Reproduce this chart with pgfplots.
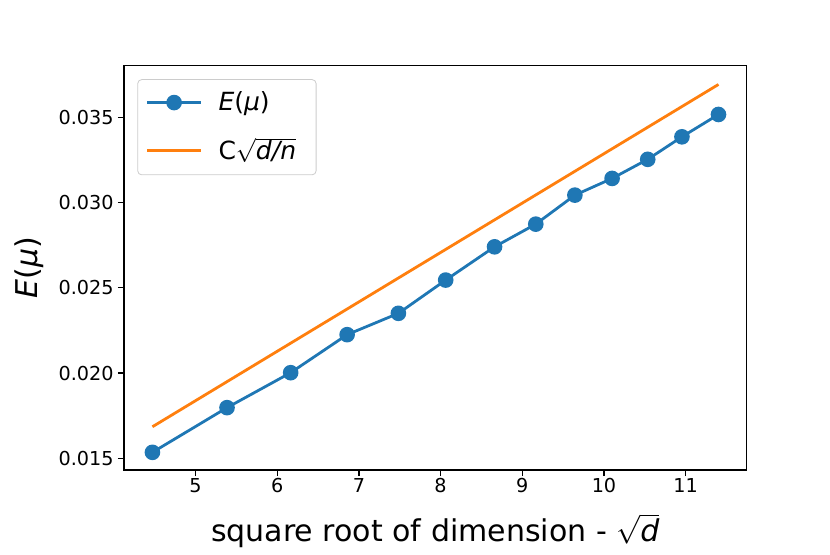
\documentclass[border=0pt]{standalone}
\usepackage{pgfplots}
\pgfplotsset{compat=1.18}
\usepackage{fontspec}
\setmainfont{DejaVu Sans}
\definecolor{c0}{HTML}{1F77B4}
\definecolor{c1}{HTML}{FF7F0E}
\pgfplotstableread{
x y
4.4721 0.01535
5.3852 0.01797
6.1644 0.02002
6.8557 0.02225
7.4833 0.02350
8.0623 0.02545
8.6603 0.02740
9.1652 0.02873
9.6437 0.03043
10.0995 0.03141
10.5357 0.03253
10.9545 0.03385
11.4018 0.03516
}\emu
\pgfplotstableread{
x y
4.4721 0.01685
11.4018 0.03692
}\bound
\begin{document}
\begin{tikzpicture}
\begin{axis}[
  at={(0,0)}, anchor=south west,
  scale only axis, width=311.3pt, height=202.2pt,
  xmin=4.124, xmax=11.746, ymin=0.014314, ymax=0.038025,
  xtick={5,6,7,8,9,10,11}, xticklabels={5,6,7,8,9,10,11},
  ytick={0.015,0.020,0.025,0.030,0.035},
  yticklabels={0.015,0.020,0.025,0.030,0.035},
  scaled y ticks=false,
  tick align=outside, major tick length=3pt,
  xtick pos=bottom, ytick pos=left,
  tick style={line width=0.6pt, black},
  axis line style={line width=0.6pt},
  tick label style={font=\fontsize{9.6}{11}\selectfont},
  xticklabel style={anchor=north, inner sep=0pt, yshift=-1pt},
  yticklabel style={anchor=east, inner sep=0pt, xshift=-2pt},
  xlabel={square root of dimension - $\sqrt{\mbox{\itshape d}}$},
  ylabel={\textit{E}(\textit{μ})},
  label style={font=\fontsize{15}{17}\selectfont},
  xlabel style={at={(axis description cs:0.5,0)}, anchor=base, yshift=-35.85pt},
  ylabel style={at={(axis description cs:-0.1518,0.5)}, anchor=center},
  legend style={at={(0.0214,0.9664)}, anchor=north west, draw=black!20,
    rounded corners=2pt, font=\fontsize{12.5}{15}\selectfont,
    inner xsep=4pt, inner ysep=4pt, row sep=8pt},
  legend cell align=left,
  legend image code/.code={\draw[mark repeat=2,mark phase=2,#1] plot coordinates {(0pt,0pt) (13.5pt,0pt) (27pt,0pt)};},
]
\addplot[c0, line width=1.4pt, mark=*, mark size=3.2pt, mark options={fill=c0, draw=none}] table[x=x,y=y]{\emu};
\addlegendentry{\hspace{6pt}\textit{E}(\textit{μ})}
\addplot[c1, line width=1.4pt] table[x=x,y=y]{\bound};
\addlegendentry{\hspace{6pt}C$\sqrt{\mbox{\itshape d/n}}$\kern4pt\null}
\end{axis}
\pgfresetboundingbox
\useasboundingbox (-62pt,-42pt) rectangle (353pt,235pt);
\end{tikzpicture}
\end{document}
